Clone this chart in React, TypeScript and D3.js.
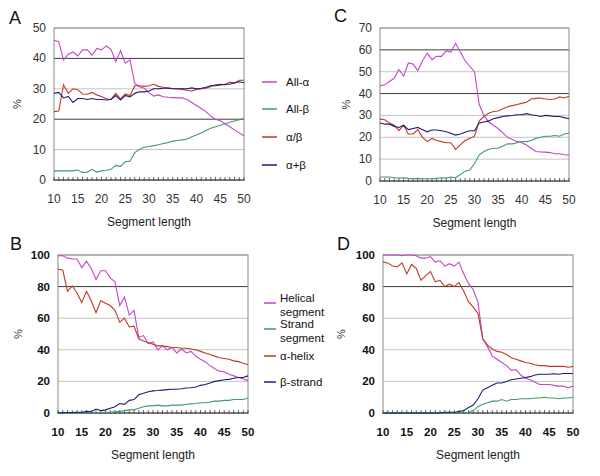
import React from "react";
import * as d3 from "d3";

const segLen: number[] = d3.range(10, 51);

// Panel A
const aAllAlpha = [46, 45.5, 39.5, 41.4, 42.1, 40.8, 42.8, 42.8, 41.1, 43.3, 42.8, 44.1, 43, 38.9, 42.5, 38.4, 39.5, 31.8, 30.7, 30.2, 28.7, 27.6, 28, 27.4, 27.2, 27.1, 27, 27, 26.5, 25.5, 24.5, 23.5, 22.5, 21, 20, 19.5, 18.5, 17.5, 16.5, 15.5, 14.5];
const aAllBeta = [3, 3, 3, 3, 3, 3.3, 2.5, 2.6, 3.5, 2.6, 3, 3.2, 3.5, 4.8, 4.5, 6, 6.2, 9, 10, 10.8, 11, 11.3, 11.6, 12, 12.3, 12.8, 13, 13.2, 13.5, 14.2, 14.8, 15.5, 16.3, 17, 17.5, 18, 18.5, 19, 19.4, 19.8, 20.2];
const aAlphaSlashBeta = [22.5, 22.7, 31.3, 28.5, 30, 29.7, 28.3, 28.2, 28.8, 28, 27.5, 26.7, 26.5, 28.5, 26.7, 28.3, 27.8, 31, 31, 30.8, 31, 31.5, 30.8, 30.5, 30.3, 30.1, 30, 29.8, 29.5, 29.3, 29.8, 30, 30.2, 30.8, 31.3, 31.5, 31.3, 32.2, 31.8, 32.8, 32.8];
const aAlphaPlusBeta = [28.5, 28.8, 27, 27.5, 25.5, 26.8, 26.8, 26.5, 26.8, 26.5, 26.5, 26.3, 26.5, 27.8, 26.3, 27.8, 27.3, 28.5, 29, 29, 29.3, 30, 30, 30.2, 30.2, 30, 30, 30, 30, 30.3, 30, 30.2, 30.5, 31, 31, 31.3, 31.5, 31.5, 32, 32.3, 32];

// Panel C
const cAllAlpha = [43.5, 44, 45.5, 47, 51, 48, 54, 53.5, 50.5, 55, 58.5, 55.5, 57, 57, 59.5, 59, 63, 59, 55, 52.5, 50, 35, 30, 27, 25.5, 24, 22, 20, 19, 18, 17.5, 16.5, 15, 13.5, 13.3, 13.2, 13, 12.5, 12.5, 12, 11.8];
const cAllBeta = [1.8, 1.8, 1.8, 1.5, 1.3, 1.5, 1.2, 1, 1.2, 1, 1, 1, 1.2, 1.5, 1.3, 1.8, 1.5, 3, 4.5, 5, 8, 12, 13.5, 14.5, 15, 15, 16, 17, 17, 17.5, 18, 18, 18.5, 19.5, 20, 20.5, 20.5, 20.8, 20.5, 21.5, 22];
const cAlphaSlashBeta = [28.3, 28, 26.5, 25.5, 23, 25.5, 21.5, 21.5, 23.5, 20, 18, 19.5, 18.5, 18, 17.5, 17.5, 14.5, 16.5, 18.5, 19.5, 20.5, 27.5, 29.5, 31, 31.8, 32, 33, 34, 34.5, 35, 35.5, 36, 37.5, 37.8, 38, 37.5, 37.3, 37.5, 38.5, 38, 38.8];
const cAlphaPlusBeta = [26.5, 26, 26, 25, 24.5, 25.5, 23.5, 24, 24.5, 23.5, 22.5, 23.3, 23.3, 23, 22.5, 21.8, 21, 21.5, 22.3, 23, 23, 26.5, 27, 27.5, 28.5, 29, 29.5, 29.8, 30, 30.3, 30.3, 30.8, 30.3, 30, 29.5, 30, 29.8, 29.5, 29.5, 29, 28.5];

// Panel B
const bHelical = [99.5, 99.5, 98, 97.5, 97.5, 92, 96, 91.5, 84.5, 90, 90, 85.5, 83, 68, 73.5, 62, 65, 48, 49, 44, 45, 40, 42.5, 40, 41.5, 38, 40.5, 38, 39, 36, 34, 32.5, 30, 28, 26.5, 26, 24.5, 23.5, 22.5, 21.5, 20.5];
const bStrand = [0, 0, 0, 0, 0, 0.2, 0.2, 0.3, 0.3, 0.3, 0.5, 0.5, 0.8, 1, 1.5, 2, 2, 3, 4, 4.5, 4.5, 5, 4.5, 4.5, 5, 5, 5, 5.5, 5.8, 6, 6.5, 6.5, 7, 7.5, 7.5, 8, 8, 8.5, 8.5, 8.5, 9.5];
const bAlphaHelix = [91, 90.5, 77, 80.5, 76, 70, 77, 71, 63.5, 71, 69.5, 68, 65, 57.5, 60, 54.5, 55, 47, 45.5, 44.5, 43.5, 42.5, 42.5, 42, 41.5, 41.5, 41, 41, 40.5, 40, 39, 38, 37, 36, 35, 34.5, 34, 33, 32.5, 31.5, 30.5];
const bBetaStrand = [0.2, 0.2, 0.3, 0.3, 0.5, 0.5, 1, 0.8, 2.5, 1.5, 2, 3, 4, 6, 5.5, 8, 8.5, 11.5, 12.5, 13.5, 14, 14.2, 14.5, 14.8, 15, 15, 15.3, 15.8, 16, 16.5, 17.5, 18, 19, 20, 20.5, 21, 21.3, 22, 22.5, 22.5, 23.5];

// Panel D
const dHelical = [100, 100, 100, 100, 99.5, 100, 100, 99.5, 98, 98, 99, 95.5, 96.5, 93, 94.5, 93, 95.5, 88, 82, 78, 70, 47, 42, 36, 34, 32, 30, 27, 27.5, 24, 22, 21, 19.5, 18, 18, 18, 17.5, 17, 17, 16, 17];
const dStrand = [0, 0, 0, 0, 0, 0, 0, 0, 0, 0, 0, 0, 0, 0, 0, 0, 0, 0, 0.5, 1.5, 4, 5.5, 6.5, 7.5, 7.5, 8.5, 7.5, 8.5, 8.5, 9, 9, 9, 9.5, 9.5, 10, 9.5, 9.5, 9, 9.5, 9.5, 10];
const dAlphaHelix = [95.5, 95, 93, 92.5, 95, 88, 94, 91.5, 84, 87, 89.5, 83, 84, 80, 81.5, 80, 82.5, 77, 70.5, 67, 63, 47, 43, 40.5, 39, 38.5, 37, 35, 34, 33, 32, 31.5, 30.5, 30, 30, 29.5, 29.5, 29.5, 29.5, 29, 29.5];
const dBetaStrand = [0, 0, 0, 0, 0, 0, 0, 0, 0, 0, 0, 0, 0, 0.5, 0.5, 0.5, 1, 1.5, 3.5, 5, 9, 14.5, 16, 17.5, 19, 19, 20, 21, 21.5, 22, 22.5, 23, 24, 24.5, 24.5, 24.5, 24.8, 24.5, 25, 25, 25];

const xTickLabels = [10, 15, 20, 25, 30, 35, 40, 45, 50];
const legendTop = ["All-α", "All-β", "α/β", "α+β"];
const legendBottom = [["Helical", "segment"], ["Strand", "segment"], ["α-helix"], ["β-strand"]];

const MAGENTA = "#c545c8";
const GREEN = "#3f9a70";
const RED = "#c03a22";
const NAVY = "#1c1c7a";
const colors = [MAGENTA, GREEN, RED, NAVY];

const FONT = "'Liberation Sans', Arial, sans-serif";

type PanelProps = {
  letter: string;
  left: number; right: number; top: number; bottom: number;
  yMax: number; yStep: number; darkLines: number[];
  series: number[][];
  bold: boolean;
  letterX: number; letterY: number;
  pctX: number;
};

function Panel(p: PanelProps) {
  const x = d3.scaleLinear().domain([10, 50]).range([p.left, p.right]);
  const y = d3.scaleLinear().domain([0, p.yMax]).range([p.bottom, p.top]);
  const line = d3.line<number>().x((_, i) => x(segLen[i])).y((v) => y(v));
  const yTicks = d3.range(0, p.yMax + 0.001, p.yStep);
  const fw = p.bold ? "bold" : "normal";
  const fs = p.bold ? 11.5 : 12;
  const tickColor = p.bold ? "#111" : "#333";
  return (
    <g>
      {yTicks.filter((t) => t > 0).map((t) => (
        <line key={"g" + t} x1={p.left} x2={p.right} y1={y(t)} y2={y(t)}
          stroke={p.darkLines.includes(t) ? "#3a3a3a" : "#c4c4c4"} strokeWidth={1} />
      ))}
      <rect x={p.left} y={p.top} width={p.right - p.left} height={p.bottom - p.top}
        fill="none" stroke="#8a8a8a" strokeWidth={1} />
      <line x1={p.left} x2={p.right} y1={p.bottom} y2={p.bottom} stroke="#333" strokeWidth={1} />
      {segLen.map((s) => (
        <line key={"t" + s} x1={x(s)} x2={x(s)} y1={p.bottom - 3} y2={p.bottom + 1} stroke="#444" strokeWidth={0.8} />
      ))}
      {p.series.map((s, i) => (
        <path key={"s" + i} d={line(s) || ""} fill="none" stroke={colors[i]} strokeWidth={1.1} />
      ))}
      {yTicks.map((t) => (
        <text key={"yl" + t} x={p.left - 8} y={y(t) + 4} textAnchor="end" fontSize={fs}
          fontWeight={fw} fill={tickColor} fontFamily={FONT}>{t}</text>
      ))}
      {xTickLabels.map((t) => (
        <text key={"xl" + t} x={x(t)} y={p.bottom + 23} textAnchor="middle" fontSize={fs}
          fontWeight={fw} fill={tickColor} fontFamily={FONT}>{t}</text>
      ))}
      <text x={(p.left + p.right) / 2} y={p.bottom + 46} textAnchor="middle" fontSize={12}
        fill="#222" fontFamily={FONT}>Segment length</text>
      <text transform={`translate(${p.pctX},${(p.top + p.bottom) / 2}) rotate(-90)`} textAnchor="middle"
        fontSize={11} fill="#333" fontFamily={FONT}>%</text>
      <text x={p.letterX} y={p.letterY} fontSize={18} fill="#111" fontFamily={FONT}>{p.letter}</text>
    </g>
  );
}

export default function App() {
  return (
    <svg width={600} height={476} style={{ position: "absolute", left: 0, top: 0, background: "#fff" }}>
      <rect width={600} height={476} fill="#fff" />
      <Panel letter="A" left={54} right={244} top={28} bottom={180} yMax={50} yStep={10} darkLines={[40, 20]}
        series={[aAllAlpha, aAllBeta, aAlphaSlashBeta, aAlphaPlusBeta]} bold={false}
        letterX={9} letterY={24} pctX={21} />
      <Panel letter="C" left={380} right={569} top={28} bottom={181} yMax={70} yStep={10} darkLines={[60, 40]}
        series={[cAllAlpha, cAllBeta, cAlphaSlashBeta, cAlphaPlusBeta]} bold={false}
        letterX={334} letterY={22} pctX={350} />
      <Panel letter="B" left={58} right={248} top={255} bottom={413} yMax={100} yStep={20} darkLines={[80]}
        series={[bHelical, bStrand, bAlphaHelix, bBetaStrand]} bold={true}
        letterX={10} letterY={250} pctX={22} />
      <Panel letter="D" left={383} right={573} top={255} bottom={413} yMax={100} yStep={20} darkLines={[80]}
        series={[dHelical, dStrand, dAlphaHelix, dBetaStrand]} bold={true}
        letterX={337} letterY={250} pctX={345} />
      {legendTop.map((l, i) => {
        const ly = [82, 109, 137, 165][i];
        return (
          <g key={"lt" + i}>
            <line x1={262} x2={277} y1={ly} y2={ly} stroke={colors[i]} strokeWidth={1.5} />
            <text x={286} y={ly + 4} fontSize={11.5} fill="#111" fontFamily={FONT}>{l}</text>
          </g>
        );
      })}
      {legendBottom.map((l, i) => {
        const ly = [303, 329, 356, 382][i];
        return (
          <g key={"lb" + i}>
            <line x1={264} x2={276} y1={ly} y2={ly} stroke={colors[i]} strokeWidth={1.5} />
            {l.map((w, j) => (
              <text key={j} x={280} y={ly + (l.length > 1 ? -1 + j * 14 : 4)} fontSize={11.5} fill="#111" fontFamily={FONT}>{w}</text>
            ))}
          </g>
        );
      })}
    </svg>
  );
}
